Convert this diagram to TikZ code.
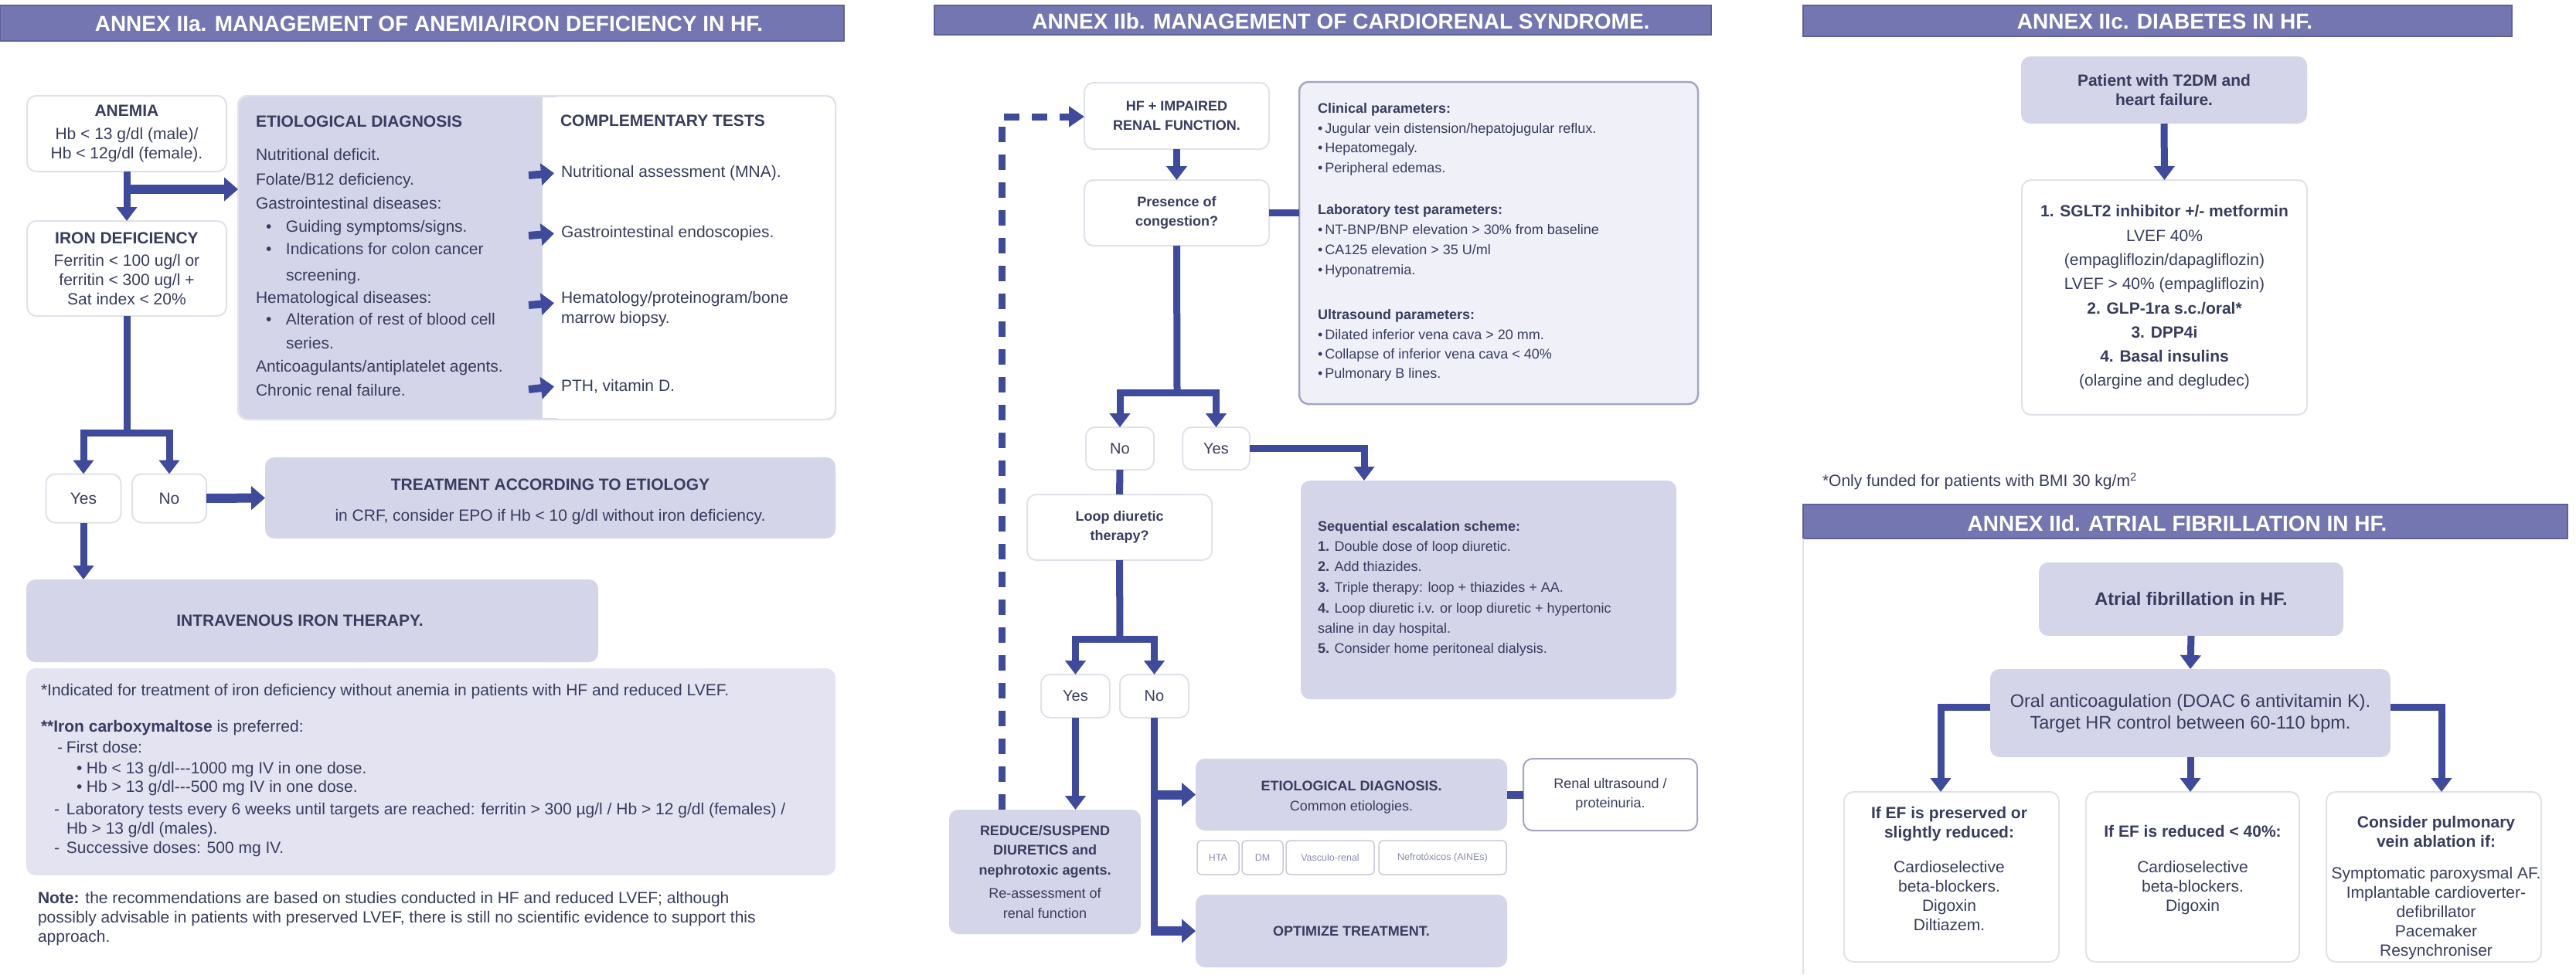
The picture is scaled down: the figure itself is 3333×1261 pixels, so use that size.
\documentclass[tikz,border=0pt]{standalone}
\usepackage{fontspec}
\setmainfont{Liberation Sans}
\usetikzlibrary{arrows.meta,calc}
\definecolor{titlebg}{HTML}{7376B0}
\definecolor{titleedge}{HTML}{5F6199}
\definecolor{arrowc}{HTML}{3E4A9B}
\definecolor{txt}{HTML}{383C5E}
\definecolor{lav}{HTML}{D4D5E9}
\definecolor{notefill}{HTML}{E3E3F1}
\definecolor{parfill}{HTML}{EFF0F8}
\definecolor{parborder}{HTML}{A3A5C2}
\definecolor{faint}{HTML}{E1E1EA}
\definecolor{tagtxt}{HTML}{8A8DAE}
\definecolor{tagborder}{HTML}{C9CADB}
\begin{document}
\begin{tikzpicture}[x=1pt,y=-1pt,
  every node/.style={inner sep=0pt, outer sep=0pt, text=txt},
  fT/.style={font=\fontsize{28}{33}\selectfont\bfseries},
  fM/.style={font=\fontsize{21}{25}\selectfont},
  fS/.style={font=\fontsize{18}{25.5}\selectfont},
  fY/.style={font=\fontsize{20}{24}\selectfont},
  fL/.style={font=\fontsize{23.5}{28}\selectfont},
  titlebar/.style={fill=titlebg, draw=titleedge, line width=1.5pt},
  titletext/.style={fT, text=white},
  wbox/.style={draw=faint, line width=2pt, fill=white, rounded corners=12pt},
  lbox/.style={fill=lav, rounded corners=12pt},
  pbox/.style={draw=parborder, line width=2.5pt, fill=parfill, rounded corners=12pt},
  rbox/.style={draw=parborder, line width=2pt, fill=white, rounded corners=12pt},
  nbox/.style={fill=notefill, rounded corners=12pt},
  tag/.style={draw=tagborder, line width=1.5pt, fill=white, rounded corners=6pt, font=\fontsize{12.5}{15}\selectfont, text=tagtxt},
  conn/.style={draw=arrowc, line width=9pt},
  arr/.style={conn, -{Triangle[length=18pt,width=26pt]}},
  blk/.style={draw=arrowc, line width=12pt, -{Triangle[length=18pt,width=30pt]}},
  sarr/.style={draw=arrowc, line width=10pt, -{Triangle[length=17pt,width=28pt]}},
  dasharr/.style={draw=arrowc, line width=9pt, dash pattern=on 20pt off 16pt, -{Triangle[length=20pt,width=26pt]}},
  tl/.style={anchor=mid west},
]
\fill[white] (0,0) rectangle (3333,1261);
\useasboundingbox (0,0) rectangle (3333,1261);

%================ ANNEX IIa =================
\node[titlebar, minimum width=1092pt, minimum height=46pt] (tbA) at (546,30) {};
\node[titletext] (ttA) at (555,31) {ANNEX IIa. MANAGEMENT OF ANEMIA/IRON DEFICIENCY IN HF.};

\node[wbox, minimum width=258pt, minimum height=98pt, fM, align=center] (anemia) at (164,173)
  {\textbf{ANEMIA}\\[5pt]Hb < 13 g/dl (male)/\\Hb < 12g/dl (female).};
\node[wbox, minimum width=258pt, minimum height=123pt, fM, align=center] (iron) at (164,347.5)
  {\textbf{IRON DEFICIENCY}\\[4pt]Ferritin < 100 ug/l or\\ferritin < 300 ug/l +\\Sat index < 20\%};

% big diagnosis / tests box
\node[wbox, minimum width=773pt, minimum height=419pt] (diag) at (694.5,333.5) {};
\fill[lav, rounded corners=12pt] (309,125) rectangle (730,542);
\fill[white] (702,126) rectangle (732,541);
\draw[faint, line width=2pt, rounded corners=12pt] (308,124) rectangle (1081,543);

\node[tl, fM] (etH) at (331,162) {\textbf{ETIOLOGICAL DIAGNOSIS}};
\node[tl, fM] (ctH) at (725,161) {\textbf{COMPLEMENTARY TESTS}};
\node[tl, fM] (ed1) at (331,205) {Nutritional deficit.};
\node[tl, fM] (ed2) at (331,237) {Folate/B12 deficiency.};
\node[tl, fM] (ed3) at (331,268) {Gastrointestinal diseases:};
\node[tl, fM] (ed4) at (344,298) {\makebox[26pt][l]{\textbullet}Guiding symptoms/signs.};
\node[tl, fM] (ed5) at (344,327) {\makebox[26pt][l]{\textbullet}Indications for colon cancer};
\node[tl, fM] (ed6) at (370,361) {screening.};
\node[tl, fM] (ed7) at (331,390) {Hematological diseases:};
\node[tl, fM] (ed8) at (344,418) {\makebox[26pt][l]{\textbullet}Alteration of rest of blood cell};
\node[tl, fM] (ed9) at (370,449) {series.};
\node[tl, fM] (ed10) at (331,479) {Anticoagulants/antiplatelet agents.};
\node[tl, fM] (ed11) at (331,510) {Chronic renal failure.};

\node[tl, fM] (ct1) at (726,227) {Nutritional assessment (MNA).};
\node[tl, fM] (ct2) at (726,305) {Gastrointestinal endoscopies.};
\node[tl, fM] (ct3) at (726,390) {Hematology/proteinogram/bone};
\node[tl, fM] (ct4) at (726,416) {marrow biopsy.};
\node[tl, fM] (ct5) at (726,504) {PTH, vitamin D.};
\coordinate (sa1) at (684,227);
\coordinate (sa2) at (684,305);
\coordinate (sa3) at (684,395);
\coordinate (sa4) at (684,504);
\draw[sarr] (sa1) -- ($(ct1.west)+(-9,0)$);
\draw[sarr] (sa2) -- ($(ct2.west)+(-9,0)$);
\draw[sarr] (sa3) -- ($(ct3.west)+(-9,5)$);
\draw[sarr] (sa4) -- ($(ct5.west)+(-9,0)$);

% anemia arrows
\draw[arr] (anemia.south) -- (iron.north);
\draw[blk] ($(anemia.south)+(0,23)$) -- (diag.west |- {$(anemia.south)+(0,23)$});

% yes / no
\node[wbox, minimum width=97pt, minimum height=63pt, fM] (yesA) at (108,645) {Yes};
\node[wbox, minimum width=96pt, minimum height=63pt, fM] (noA) at (219,645) {No};
\coordinate (jA) at (164,560);
\draw[conn] (iron.south) -- (jA);
\draw[arr] (jA) -| (yesA.north);
\draw[arr] (jA) -| (noA.north);

\node[lbox, minimum width=738pt, minimum height=105pt] (treat) at (712,644.5) {};
\node[fM, align=center] (treatT) at (712,649)
  {\textbf{TREATMENT ACCORDING TO ETIOLOGY}\\[15pt]in CRF, consider EPO if Hb < 10 g/dl without iron deficiency.};
\draw[blk] (noA.east) -- (treat.west);

\node[lbox, minimum width=740pt, minimum height=107pt] (iv) at (404,803.5) {};
\node[fM] (ivT) at (388,803) {\textbf{INTRAVENOUS IRON THERAPY.}};
\draw[arr] (yesA.south) -- (yesA.south |- iv.north);

\node[nbox, minimum width=1047pt, minimum height=268pt] (notes) at (557.5,999) {};
\node[tl, fM] (n1) at (53,898) {*Indicated for treatment of iron deficiency without anemia in patients with HF and reduced LVEF.};
\node[tl, fM] (n2) at (53,945) {\textbf{**Iron carboxymaltose} is preferred:};
\node[tl, fM] (n3) at (74,972) {\makebox[12pt][l]{-}First dose:};
\node[tl, fM] (n4) at (99,999) {\makebox[13pt][l]{\textbullet}Hb < 13 g/dl-{}-{}-1000 mg IV in one dose.};
\node[tl, fM] (n5) at (99,1023) {\makebox[13pt][l]{\textbullet}Hb > 13 g/dl-{}-{}-500 mg IV in one dose.};
\node[tl, fM] (n6) at (70,1052) {\makebox[16pt][l]{-}Laboratory tests every 6 weeks until targets are reached: ferritin > 300 µg/l / Hb > 12 g/dl (females) /};
\node[tl, fM] (n7) at (86,1077) {Hb > 13 g/dl (males).};
\node[tl, fM] (n8) at (70,1102) {\makebox[16pt][l]{-}Successive doses: 500 mg IV.};

\node[tl, fM] (nt1) at (49,1167) {\textbf{Note:} the recommendations are based on studies conducted in HF and reduced LVEF; although};
\node[tl, fM] (nt2) at (49,1192) {possibly advisable in patients with preserved LVEF, there is still no scientific evidence to support this};
\node[tl, fM] (nt3) at (49,1217) {approach.};

%================ ANNEX IIb =================
\node[titlebar, minimum width=1005pt, minimum height=38pt] (tbB) at (1711.5,26) {};
\node[titletext] (ttB) at (1735,27) {ANNEX IIb. MANAGEMENT OF CARDIORENAL SYNDROME.};

\node[wbox, minimum width=239pt, minimum height=86pt, fS, align=center] (hf) at (1522.5,150)
  {\textbf{HF + IMPAIRED}\\\textbf{RENAL FUNCTION.}};
\node[wbox, minimum width=239pt, minimum height=85pt, fS, align=center] (pres) at (1522.5,275.5)
  {\textbf{Presence of}\\\textbf{congestion?}};
\draw[arr] (hf.south) -- (pres.north);

\node[pbox, minimum width=516pt, minimum height=417pt] (params) at (1939,314.5) {};
\draw[conn] (pres.east) -- (params.west |- pres.east);
\node[tl, fS] (p1) at (1705,144) {\textbf{Clinical parameters:}};
\node[tl, fS] (p2) at (1705,170) {\textbullet\,Jugular vein distension/hepatojugular reflux.};
\node[tl, fS] (p3) at (1705,195) {\textbullet\,Hepatomegaly.};
\node[tl, fS] (p4) at (1705,221) {\textbullet\,Peripheral edemas.};
\node[tl, fS] (p5) at (1705,275) {\textbf{Laboratory test parameters:}};
\node[tl, fS] (p6) at (1705,301) {\textbullet\,NT-BNP/BNP elevation > 30\% from baseline};
\node[tl, fS] (p7) at (1705,327) {\textbullet\,CA125 elevation > 35 U/ml};
\node[tl, fS] (p8) at (1705,353) {\textbullet\,Hyponatremia.};
\node[tl, fS] (p9) at (1705,411) {\textbf{Ultrasound parameters:}};
\node[tl, fS] (p10) at (1705,437) {\textbullet\,Dilated inferior vena cava > 20 mm.};
\node[tl, fS] (p11) at (1705,462) {\textbullet\,Collapse of inferior vena cava < 40\%};
\node[tl, fS] (p12) at (1705,487) {\textbullet\,Pulmonary B lines.};

\node[wbox, minimum width=88pt, minimum height=55pt, fY] (noB) at (1449,580.5) {No};
\node[wbox, minimum width=87pt, minimum height=55pt, fY] (yesB) at (1573.5,580.5) {Yes};
\coordinate (jB) at (1523,508);
\draw[conn] (pres.south) -- (jB);
\draw[arr] (jB) -| (noB.north);
\draw[arr] (jB) -| (yesB.north);

\node[lbox, minimum width=486pt, minimum height=283pt] (seq) at (1926,763.5) {};
\draw[arr] (yesB.east) -| ($(seq.north west)+(82,0)$);
\node[tl, fS] (s1) at (1705,685) {\textbf{Sequential escalation scheme:}};
\node[tl, fS] (s2) at (1705,711) {\textbf{1.} Double dose of loop diuretic.};
\node[tl, fS] (s3) at (1705,737) {\textbf{2.} Add thiazides.};
\node[tl, fS] (s4) at (1705,764) {\textbf{3.} Triple therapy: loop + thiazides + AA.};
\node[tl, fS] (s5) at (1705,791) {\textbf{4.} Loop diuretic i.v. or loop diuretic + hypertonic};
\node[tl, fS] (s6) at (1705,817) {saline in day hospital.};
\node[tl, fS] (s7) at (1705,843) {\textbf{5.} Consider home peritoneal dialysis.};

\node[wbox, minimum width=239pt, minimum height=85pt, fS, align=center] (loop) at (1448.5,682.5)
  {\textbf{Loop diuretic}\\\textbf{therapy?}};
\draw[conn] (noB.south) -- (loop.north);

\node[wbox, minimum width=89pt, minimum height=56pt, fY] (yesC) at (1391.5,901) {Yes};
\node[wbox, minimum width=89pt, minimum height=56pt, fY] (noC) at (1493.5,901) {No};
\coordinate (jC) at (1449,827);
\draw[conn] (loop.south) -- (jC);
\draw[arr] (jC) -| (yesC.north);
\draw[arr] (jC) -| (noC.north);

\node[lbox, minimum width=248pt, minimum height=161pt, fS, align=center] (reduce) at (1352,1128.5)
  {\textbf{REDUCE/SUSPEND}\\\textbf{DIURETICS and}\\\textbf{nephrotoxic agents.}\\[5pt]Re-assessment of\\renal function};
\draw[arr] (yesC.south) -- (yesC.south |- reduce.north);

\coordinate (dc) at (1296,151);
\draw[dasharr] (reduce.north -| dc) -- (dc) -- (hf.west |- dc);

\node[lbox, minimum width=403pt, minimum height=93pt] (etio2) at (1748.5,1028.5) {};
\node[fS, align=center] (etio2T) at (1748.5,1032) {\textbf{ETIOLOGICAL DIAGNOSIS.}\\Common etiologies.};
\node[rbox, minimum width=225pt, minimum height=93pt, fS, align=center] (renal) at (2083.5,1028.5)
  {Renal ultrasound /\\proteinuria.};
\draw[draw=arrowc, line width=10pt] (etio2.east) -- (renal.west);

\node[tag, minimum width=54pt, minimum height=44pt] (tg1) at (1576,1110) {HTA};
\node[tag, minimum width=53pt, minimum height=44pt] (tg2) at (1633.5,1110) {DM};
\node[tag, minimum width=114pt, minimum height=44pt] (tg3) at (1721,1110) {Vasculo-renal};
\node[tag, minimum width=165pt, minimum height=44pt] (tg4) at (1866.5,1110) {Nefrotóxicos (AINEs)};

\node[lbox, minimum width=403pt, minimum height=94pt, fS] (optim) at (1748.5,1205) {\textbf{OPTIMIZE TREATMENT.}};

\draw[conn] (noC.south) -- ($(noC.south |- optim.west)+(0,6)$);
\draw[blk] ($(noC.south |- etio2.west)+(-4.5,0)$) -- (etio2.west);
\draw[blk] ($(noC.south |- optim.west)+(-4.5,0)$) -- (optim.west);

%================ ANNEX IIc =================
\node[titlebar, minimum width=917pt, minimum height=40pt] (tbC) at (2791.5,27) {};
\node[titletext] (ttC) at (2801,28) {ANNEX IIc. DIABETES IN HF.};

\node[lbox, minimum width=370pt, minimum height=87pt, fM, align=center] (pat) at (2800,116.5)
  {\textbf{Patient with T2DM and}\\\textbf{heart failure.}};
\node[wbox, minimum width=369pt, minimum height=304pt, align=center, font=\fontsize{21}{31.3}\selectfont] (trt) at (2800.5,385)
  {\textbf{1. SGLT2 inhibitor +/- metformin}\\LVEF 40\%\\(empagliflozin/dapagliflozin)\\LVEF > 40\% (empagliflozin)\\\textbf{2. GLP-1ra s.c./oral*}\\\textbf{3. DPP4i}\\\textbf{4. Basal insulins}\\(olargine and degludec)};
\draw[arr] (pat.south) -- (trt.north);
\node[tl, fM] (fn) at (2358,627) {*Only funded for patients with BMI 30 kg/m\textsuperscript{2}};

%================ ANNEX IId =================
\node[titlebar, minimum width=989pt, minimum height=44pt] (tbD) at (2827.5,675) {};
\node[titletext] (ttD) at (2817,677) {ANNEX IId. ATRIAL FIBRILLATION IN HF.};
\draw[faint, line width=2.5pt] (2333,697) -- (2333,1261);

\node[lbox, minimum width=394pt, minimum height=95pt, fL] (af) at (2835,775.5) {\textbf{Atrial fibrillation in HF.}};
\node[lbox, minimum width=518pt, minimum height=114pt, fL, align=center] (oral) at (2834,923)
  {Oral anticoagulation (DOAC 6 antivitamin K).\\Target HR control between 60-110 bpm.};
\draw[arr] (af.south) -- (oral.north);

\node[wbox, minimum width=278pt, minimum height=220pt] (b1) at (2525,1135) {};
\node[wbox, minimum width=276pt, minimum height=220pt] (b2) at (2837,1135) {};
\node[wbox, minimum width=278pt, minimum height=220pt] (b3) at (3149,1135) {};
\node[fM, align=center] (b1t) at (2522,1124)
  {\textbf{If EF is preserved or}\\\textbf{slightly reduced:}\\[20pt]Cardioselective\\beta-blockers.\\Digoxin\\Diltiazem.};
\node[fM, align=center] (b2t) at (2837,1126.5)
  {\textbf{If EF is reduced < 40\%:}\\[21pt]Cardioselective\\beta-blockers.\\Digoxin};
\node[fM, align=center] (b3t) at (3152,1149)
  {\textbf{Consider pulmonary}\\\textbf{vein ablation if:}\\[16pt]Symptomatic paroxysmal AF.\\Implantable cardioverter-\\defibrillator\\Pacemaker\\Resynchroniser};

\draw[arr] ($(oral.west)+(0,-8)$) -| ($(b1.north)+(-14,0)$);
\draw[arr] ($(oral.east)+(0,-8)$) -| ($(b3.north)+(10,0)$);
\draw[arr] (oral.south) -- (oral.south |- b2.north);
\end{tikzpicture}
\end{document}
